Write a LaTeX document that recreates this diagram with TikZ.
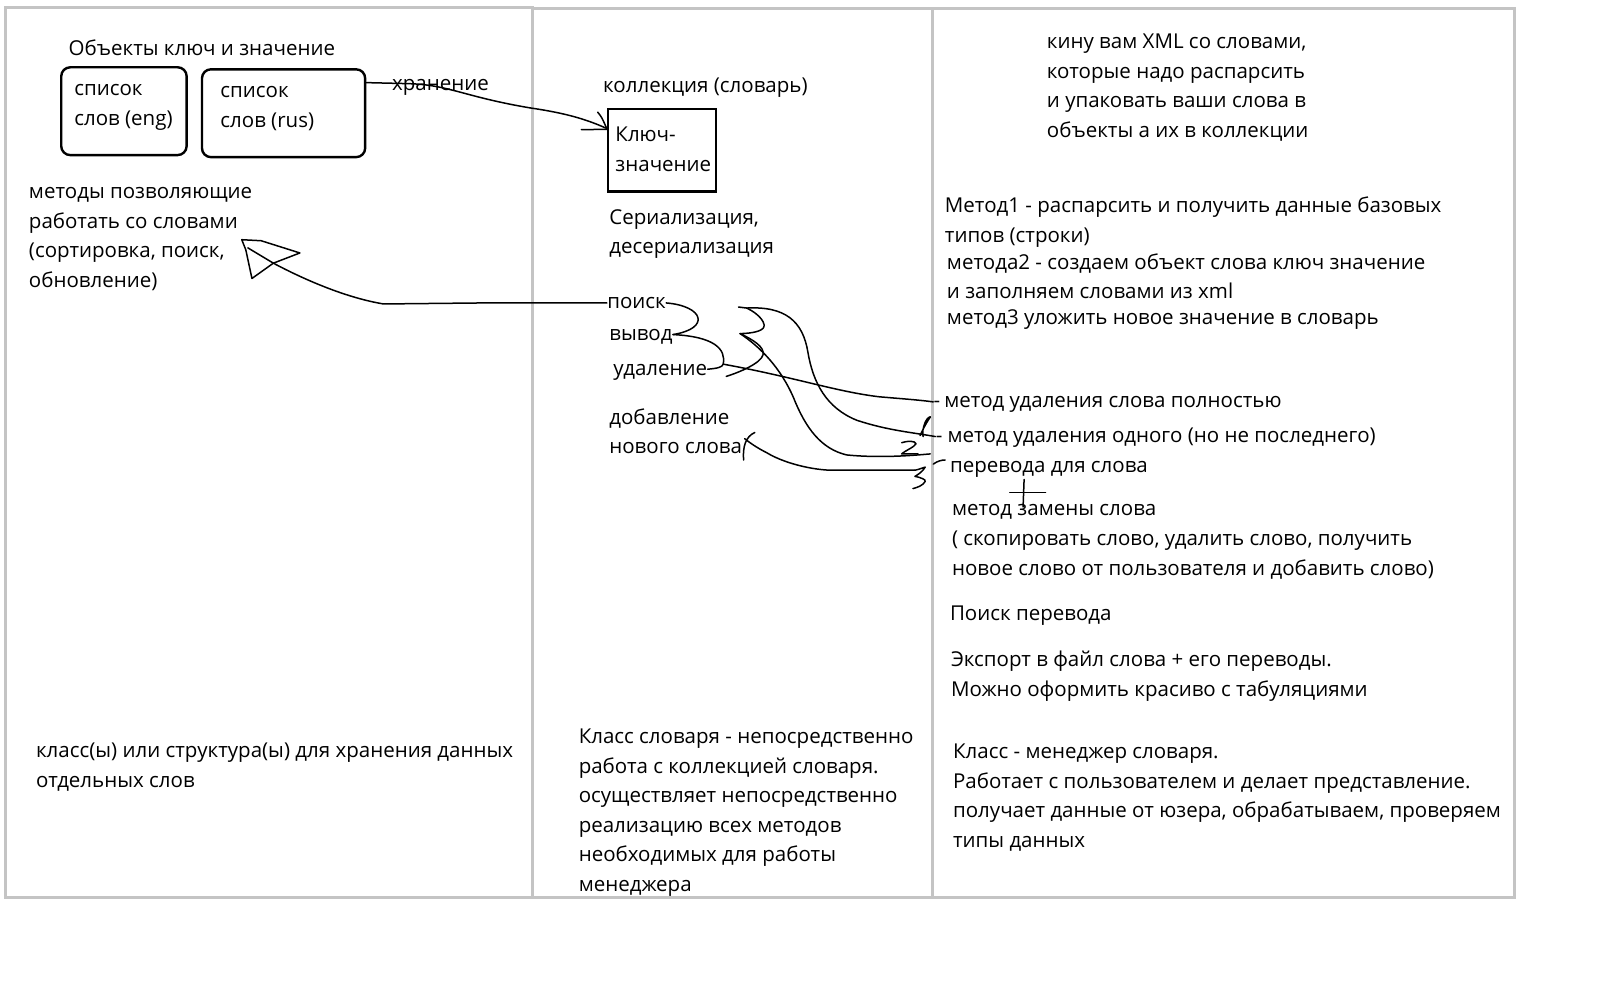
\documentclass[tikz,border=0pt]{standalone}
\usepackage{fontspec}
\setmainfont{Open Sans}
\usepackage{tikz}
\newcommand{\bodyfont}{\fontsize{10.25}{14.8}\selectfont}

\begin{document}
\begin{tikzpicture}[x=0.51pt,y=-0.51pt,
  frame/.style={draw=black!23,line width=1.5pt},
  wordbox/.style={draw,line width=1.2pt,rounded corners=4.5pt,inner sep=0pt},
  keybox/.style={draw,line width=1.3pt,inner sep=0pt},
  note/.style={anchor=north west,inner sep=0pt,align=left,yshift=7.6pt,
    font=\bodyfont,execute at begin node={\strut}},
  ink/.style={line width=0.75pt,line cap=round,line join=round}]
  \useasboundingbox (0,0) rectangle (1568.6,961.8);
  % the three panels
  \draw[frame] (5,7) rectangle (522.5,880);
  \draw[frame] (522.5,8) rectangle (914.5,880);
  \draw[frame] (914.5,8) rectangle (1485,880);

  % left panel
  \node[note] (objtitle) at (67,49) {Объекты ключ и значение};
  \node[wordbox,minimum width=62.7pt,minimum height=43.9pt] (eng) at (121.5,109) {};
  \node[wordbox,minimum width=81.6pt,minimum height=43.9pt] (rus) at (278,111) {};
  \node[note] (engtxt) at (72.5,88) {\strut список\\слов (eng)};
  \node[note] (rustxt) at (215.7,90) {\strut список\\слов (rus)};
  \node[note] (storage) at (384,83) {хранение};
  \node[note] (wordops) at (28,189) {\strut методы позволяющие\\работать со словами\\(сортировка, поиск,\\обновление)};
  \node[note] (wordcls) at (35,737) {\strut класс(ы) или структура(ы) для хранения данных\\отдельных слов};

  % middle panel
  \node[note] (coll) at (591,85) {коллекция (словарь)};
  \node[keybox,minimum width=54pt,minimum height=41.3pt] (pair) at (649,147.5) {};
  \node[note] (pairtxt) at (603,133) {\strut Ключ-\\значение};
  \node[note] (serial) at (597,214) {\strut Сериализация,\\десериализация};
  \node[note] (search) at (595,297) {поиск};
  \node[note] (output) at (597,328) {вывод};
  \node[note] (remove) at (601,362) {удаление};
  \node[note] (addword) at (597,410) {\strut добавление\\нового слова};
  \node[note] (dictcls) at (567,723) {\strut Класс словаря - непосредственно\\работа с коллекцией словаря.\\осуществляет непосредственно\\реализацию всех методов\\необходимых для работы\\менеджера};

  % right panel
  \node[note] (xmlnote) at (1026,42) {\strut кину вам XML со словами,\\которые надо распарсить\\и упаковать ваши слова в\\объекты а их в коллекции};
  \node[note] (method1) at (926,203) {\strut Метод1 - распарсить и получить данные базовых\\типов (строки)};
  \node[note] (method2) at (928,258) {\strut метода2 - создаем объект слова ключ значение\\и заполняем словами из xml};
  \node[note] (method3) at (928,312) {метод3 уложить новое значение в словарь};
  \node[note] (delall) at (915,394) {-\kern2pt метод удаления слова полностью};
  \node[note] (delone) at (917,428) {- метод удаления одного (но не последнего)};
  \node[note] (transl) at (931,457) {перевода для слова};
  \node[note] (replace) at (933,500) {\strut метод замены слова\\( скопировать слово, удалить слово, получить\\новое слово от пользователя и добавить слово)};
  \node[note] (findtr) at (931,603) {Поиск перевода};
  \node[note] (export) at (932,648) {\strut Экспорт в файл слова + его переводы.\\Можно оформить красиво с табуляциями};
  \node[note] (mgrcls) at (934,738) {\strut Класс - менеджер словаря.\\Работает с пользователем и делает представление.\\получает данные от юзера, обрабатываем, проверяем\\типы данных};

  % hand drawn connectors
  \coordinate (keytip) at ([yshift=11pt]pair.west);
  \draw[ink] ([yshift=15.3pt]rus.east) -- (400,82)
    .. controls (440,83) and (455,95) .. (521,106)
    .. controls (555,111) and (575,117) .. (keytip);
  \draw[ink] (586,110) .. controls (590,115) .. (keytip);
  \draw[ink] (570,127) -- ([yshift=-0.5pt]keytip);

  \draw[ink] (search.west) -- (472,297) -- (376,298)
    .. controls (340,292) and (300,275) .. (268,258) -- (243,243);
  \draw[ink] (237,235) -- (256,236) -- (294,248) -- (268,258) -- (247,273)
    -- (241,245) -- cycle;

  \draw[ink] (search.east) .. controls (690,300) and (697,322) .. (output.east);
  \coordinate (rmtip) at (709,357);
  \draw[ink] (output.east) .. controls (700,330) and (712,342) .. (rmtip)
    .. controls (708,360) and (704,361) .. (remove.east);
  \draw[ink] (rmtip) .. controls (780,370) and (820,384) .. (862,389)
    .. controls (885,391) and (900,392) .. (delall.west);

  \coordinate (twotop) at (732,302);
  \coordinate (twomid) at (725.5,327);
  \draw[ink] (724,301) -- (twotop) .. controls (745,308) and (752,318) .. (748,322)
    .. controls (744,326) and (732,327) .. (twomid)
    .. controls (738,333) and (750,340) .. (748,348)
    .. controls (746,356) and (725,365) .. (712,369);
  \draw[ink] (twotop) .. controls (770,300) and (787,315) .. (792,345)
    .. controls (797,375) and (810,400) .. (840,412)
    .. controls (870,422) and (895,424) .. (delone.west);
  \coordinate (fend) at (912,445);
  \draw[ink] (twomid) .. controls (745,340) and (765,360) .. (778,390)
    .. controls (790,420) and (805,440) .. (830,446)
    .. controls (860,449) and (890,447) .. (fend);
  \coordinate (addtip) at (730,430);
  \coordinate (gstart) at (897,461);
  \draw[ink] (gstart) -- (814,461) .. controls (790,460) and (765,452) .. (752,444)
    .. controls (742,439) and (735,434) .. (addtip);
  \draw[ink] (740,424) .. controls (731,428) and (728,438) .. (729,451);

  % numbers and marks
  \draw[ink] (902,427) .. controls (906,418) and (911,410) .. (912,409)
    .. controls (913,408) and (909,409) .. (907,414)
    .. controls (905,419) and (904,424) .. (905,428);
  \draw[ink] (884,434) .. controls (890,432) and (897,432) .. (898,435)
    .. controls (897,438) and (887,442) .. (884,445) -- (900,445);
  \draw[ink] (gstart) .. controls (902,460) and (906,458) .. (907,458)
    .. controls (905,462) and (899,466) .. (897,467)
    .. controls (902,468) and (908,470) .. (907,472)
    .. controls (905,476) and (899,478) .. (895,479);
  \draw[ink] (915,455) .. controls (919,452) and (923,451) .. (926.5,451);
  \draw[ink] (990,483) -- (1025,483);
  \draw[ink] (1004,470) -- (1003,497);
\end{tikzpicture}
\end{document}
